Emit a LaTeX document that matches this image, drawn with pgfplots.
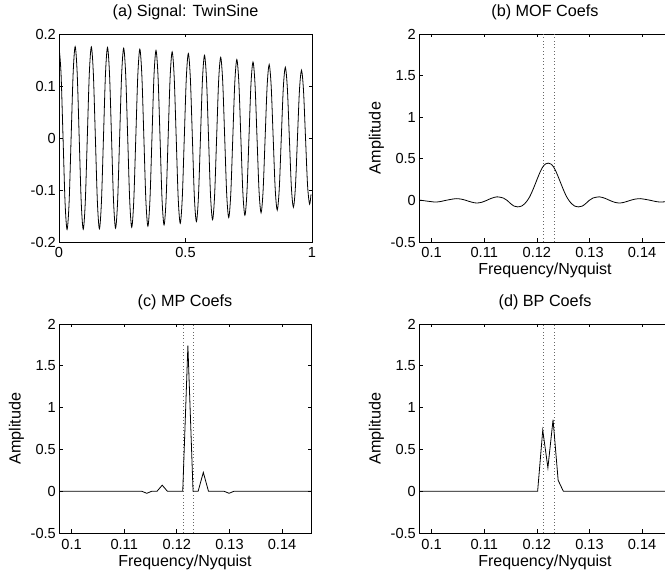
\documentclass[border=0pt]{standalone}
\usepackage{fontspec}
\setmainfont{Liberation Sans}
\usepackage{pgfplots}
\pgfplotsset{compat=1.18}

\pgfplotsset{
  mystyle/.style={
    scale only axis,
    width=252bp, height=209bp,
    axis line style={line width=0.9bp},
    every tick/.style={black, line width=0.7bp},
    major tick length=3.5bp,
    tick align=inside,
    xtick pos=both, ytick pos=both,
    xticklabel pos=bottom, yticklabel pos=left,
    ticklabel style={font=\fontsize{14.6bp}{16bp}\selectfont, inner sep=0pt},
    xticklabel style={anchor=base, yshift=-16bp},
    yticklabel style={anchor=east, xshift=-3bp},
    every axis title/.style={at={(axis description cs:0.5,1)}, anchor=base, yshift=17bp, inner sep=0pt, font=\fontsize{16.2bp}{18bp}\selectfont},
    every axis x label/.style={at={(axis description cs:0.5,0)}, anchor=base, yshift=-33bp, inner sep=0pt, font=\fontsize{16bp}{18bp}\selectfont},
    every axis y label/.style={at={(axis description cs:-0.169,0.5)}, rotate=90, anchor=center, inner sep=0pt, font=\fontsize{16.2bp}{18bp}\selectfont},
  },
  freqstyle/.style={
    mystyle,
    xmin=0.0976, xmax=0.1455, ymin=-0.5, ymax=2,
    xtick={0.1,0.11,0.12,0.13,0.14},
    xticklabels={0.1,0.11,0.12,0.13,0.14},
    ytick={-0.5,0,0.5,1,1.5,2},
    yticklabels={-0.5,0,0.5,1,1.5,2},
    xlabel={Frequency/Nyquist},
    ylabel={Amplitude},
  },
  sig/.style={black, line width=0.8bp, mark=none},
  dotline/.style={black!60, line width=0.7bp, mark=none, dash pattern=on 0.8bp off 2.6bp},
}

\begin{document}
\begin{tikzpicture}
\path[use as bounding box] (0,0) rectangle (665bp,575bp);

% (a)
\begin{axis}[mystyle, at={(59bp,333bp)}, anchor=south west, width=253bp, height=208bp,
  xmin=0, xmax=1, ymin=-0.2, ymax=0.2,
  xtick={0,0.5,1}, xticklabels={0,0.5,1},
  ytick={-0.2,-0.1,0,0.1,0.2}, yticklabels={-0.2,-0.1,0,0.1,0.2},
  title={(a) Signal: TwinSine}]
\addplot[sig, smooth] coordinates {
(0,0.1760) (0.0080,0.1245) (0.0160,0) (0.0240,-0.1245) (0.0319,-0.1759) (0.0399,-0.1244) (0.0479,0) (0.0559,0.1244)
(0.0639,0.1758) (0.0719,0.1243) (0.0799,0) (0.0879,-0.1242) (0.0958,-0.1755) (0.1038,-0.1240) (0.1118,0) (0.1198,0.1239)
(0.1278,0.1751) (0.1358,0.1237) (0.1438,0) (0.1518,-0.1236) (0.1597,-0.1746) (0.1677,-0.1234) (0.1757,0) (0.1837,0.1232)
(0.1917,0.1741) (0.1997,0.1230) (0.2077,0) (0.2157,-0.1228) (0.2236,-0.1734) (0.2316,-0.1225) (0.2396,0) (0.2476,0.1222)
(0.2556,0.1726) (0.2636,0.1219) (0.2716,0) (0.2796,-0.1216) (0.2875,-0.1717) (0.2955,-0.1212) (0.3035,0) (0.3115,0.1209)
(0.3195,0.1707) (0.3275,0.1205) (0.3355,0) (0.3434,-0.1202) (0.3514,-0.1696) (0.3594,-0.1197) (0.3674,0) (0.3754,0.1193)
(0.3834,0.1684) (0.3914,0.1188) (0.3994,0) (0.4073,-0.1184) (0.4153,-0.1671) (0.4233,-0.1179) (0.4313,0) (0.4393,0.1174)
(0.4473,0.1657) (0.4553,0.1169) (0.4633,0) (0.4712,-0.1164) (0.4792,-0.1641) (0.4872,-0.1158) (0.4952,0) (0.5032,0.1152)
(0.5112,0.1625) (0.5192,0.1146) (0.5272,0) (0.5351,-0.1140) (0.5431,-0.1608) (0.5511,-0.1134) (0.5591,0) (0.5671,0.1127)
(0.5751,0.1590) (0.5831,0.1121) (0.5911,0) (0.5990,-0.1114) (0.6070,-0.1571) (0.6150,-0.1108) (0.6230,0) (0.6310,0.1101)
(0.6390,0.1551) (0.6470,0.1093) (0.6550,0) (0.6629,-0.1086) (0.6709,-0.1530) (0.6789,-0.1079) (0.6869,0) (0.6949,0.1071)
(0.7029,0.1509) (0.7109,0.1063) (0.7188,0) (0.7268,-0.1055) (0.7348,-0.1486) (0.7428,-0.1047) (0.7508,0) (0.7588,0.1039)
(0.7668,0.1462) (0.7748,0.1030) (0.7827,0) (0.7907,-0.1021) (0.7987,-0.1437) (0.8067,-0.1012) (0.8147,0) (0.8227,0.1003)
(0.8307,0.1412) (0.8387,0.0994) (0.8466,0) (0.8546,-0.0985) (0.8626,-0.1386) (0.8706,-0.0976) (0.8786,0) (0.8866,0.0966)
(0.8946,0.1359) (0.9026,0.0956) (0.9105,0) (0.9185,-0.0946) (0.9265,-0.1331) (0.9345,-0.0936) (0.9425,0) (0.9505,0.0926)
(0.9585,0.1302) (0.9664,0.0915) (0.9744,0) (0.9824,-0.0905) (0.9904,-0.1272) (0.996,-0.1083)
};
\end{axis}

% (b)
\begin{axis}[freqstyle, at={(419bp,333bp)}, anchor=south west, width=252bp, height=208bp,
  title={(b) MOF Coefs}]
\addplot[dotline] coordinates {(0.1213,-0.5) (0.1213,2)};
\addplot[dotline] coordinates {(0.1233,-0.5) (0.1233,2)};
\addplot[sig, smooth] coordinates {
(0.0976,0.005) (0.0987,-0.005) (0.0997,-0.013) (0.10065,-0.020) (0.10165,-0.014) (0.10265,0)
(0.10365,0.012) (0.10465,0.021) (0.10565,0.015) (0.10655,0) (0.10755,-0.020) (0.10855,-0.032)
(0.10955,-0.022) (0.11045,0) (0.11135,0.025) (0.11245,0.043) (0.11365,0.028) (0.11435,0)
(0.11495,-0.035) (0.11565,-0.068) (0.11635,-0.078) (0.11715,-0.067) (0.11765,-0.042) (0.11815,-0.005)
(0.11865,0.045) (0.11915,0.113) (0.11965,0.190) (0.12015,0.270) (0.12065,0.345) (0.12115,0.405)
(0.12165,0.438) (0.12215,0.448) (0.12265,0.438) (0.12315,0.405) (0.12365,0.345) (0.12415,0.270)
(0.12465,0.190) (0.12515,0.113) (0.12565,0.045) (0.12615,-0.005) (0.12665,-0.042) (0.12715,-0.067)
(0.12795,-0.078) (0.12865,-0.068) (0.12935,-0.035) (0.12995,0) (0.13065,0.028) (0.13185,0.043)
(0.13295,0.025) (0.13385,0) (0.13475,-0.022) (0.13575,-0.032) (0.13675,-0.020) (0.13775,0)
(0.13865,0.015) (0.13965,0.021) (0.14065,0.012) (0.14165,0) (0.14265,-0.014) (0.14365,-0.020)
(0.14465,-0.013) (0.1455,-0.004)
};
\end{axis}

% (c)
\begin{axis}[freqstyle, at={(59bp,42bp)}, anchor=south west,
  title={(c) MP Coefs}]
\addplot[dotline] coordinates {(0.1212,-0.5) (0.1212,2)};
\addplot[dotline] coordinates {(0.1232,-0.5) (0.1232,2)};
\addplot[sig] coordinates {
(0.0976,0) (0.11331,0) (0.11428,-0.025) (0.11526,0) (0.11624,0) (0.11722,0.072) (0.11819,0)
(0.12112,0) (0.1221,1.74) (0.12308,0) (0.12405,0) (0.12503,0.225) (0.12601,0)
(0.12894,0) (0.12992,-0.025) (0.13089,0) (0.1455,0)
};
\end{axis}

% (d)
\begin{axis}[freqstyle, at={(419bp,42bp)}, anchor=south west,
  title={(d) BP Coefs}]
\addplot[dotline] coordinates {(0.1213,-0.5) (0.1213,2)};
\addplot[dotline] coordinates {(0.1233,-0.5) (0.1233,2)};
\addplot[sig] coordinates {
(0.0976,0) (0.12015,0) (0.12112,0.73) (0.1221,0.28) (0.12308,0.855) (0.12405,0.13) (0.12503,0) (0.1455,0)
};
\end{axis}
\end{tikzpicture}
\end{document}
